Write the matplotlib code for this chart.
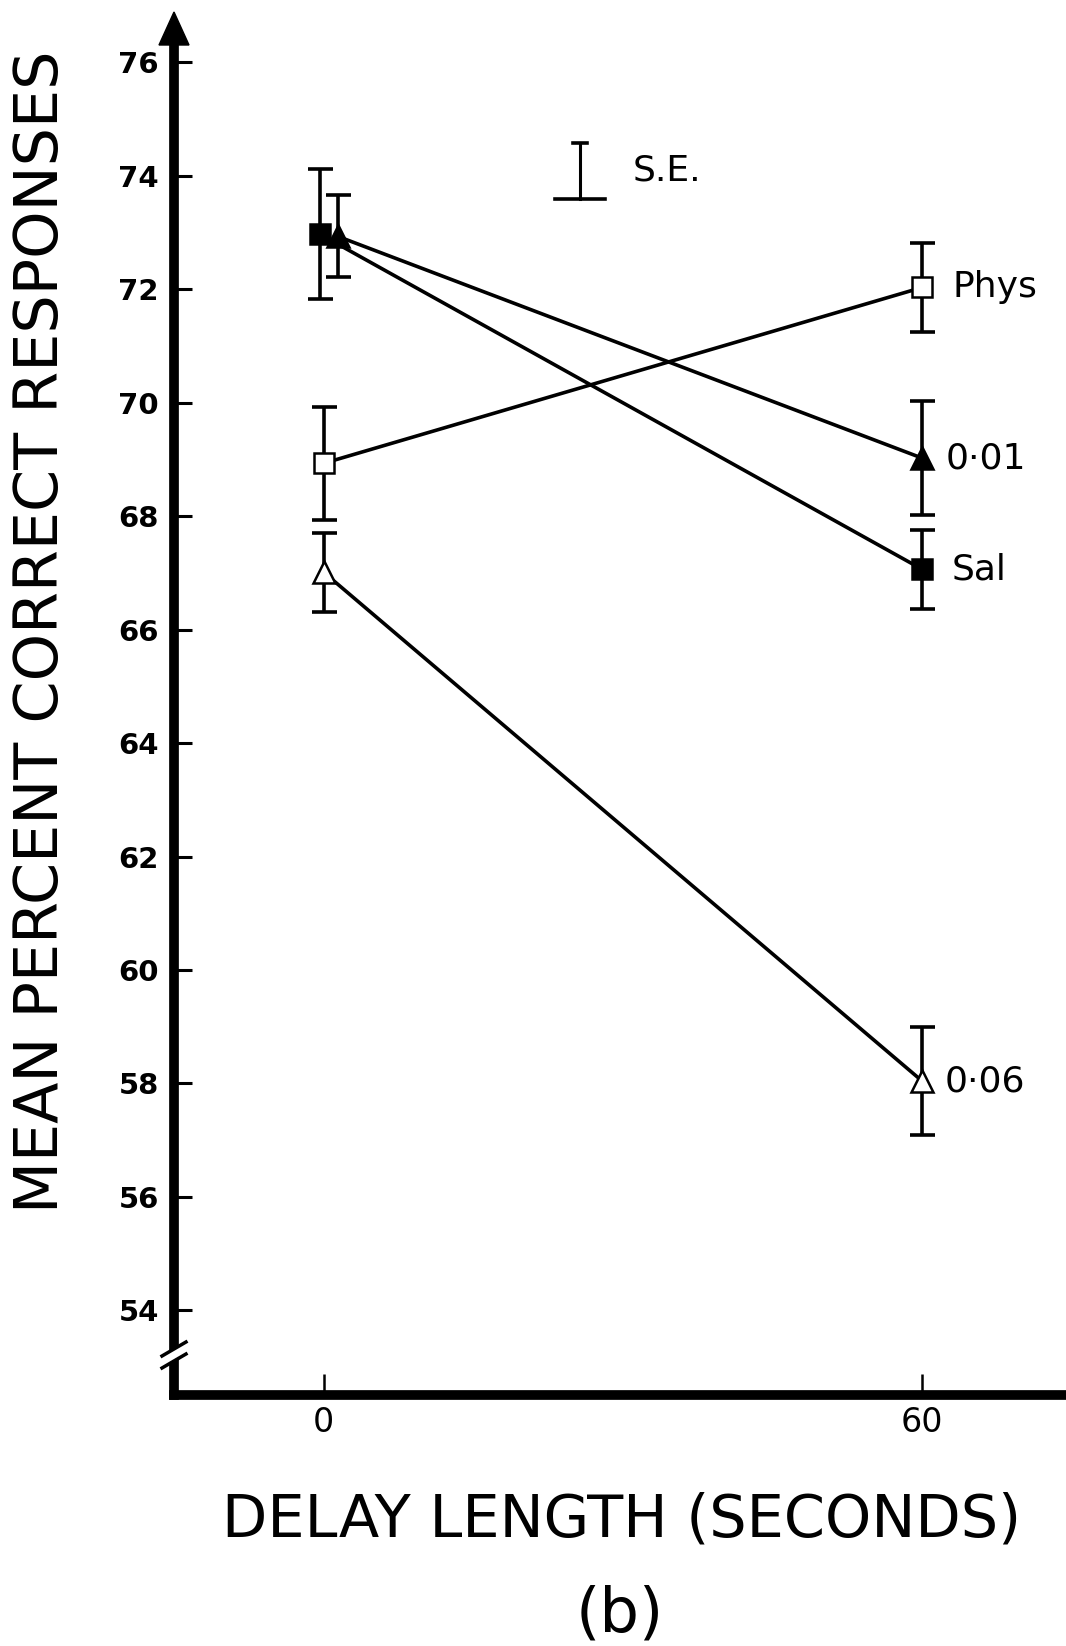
import matplotlib
matplotlib.use("Agg")
import matplotlib.pyplot as plt
from matplotlib.patches import Polygon
from matplotlib.lines import Line2D

# ---------------- data ----------------
delays = [0, 60]
groups = ["Phys", "0·01", "Sal", "0·06"]
phys = [68.93, 72.03]
phys_se = [1.00, 0.78]
d001 = [72.93, 69.02]
d001_se = [0.72, 1.00]
sal = [72.97, 67.06]
sal_se = [1.15, 0.70]
d006 = [67.01, 58.04]
d006_se = [0.70, 0.95]
yticks = [54, 56, 58, 60, 62, 64, 66, 68, 70, 72, 74, 76]
xticks = [0, 60]
se_key = [73.58, 74.57]   # S.E. key bar (low, high)

# ---------------- style ----------------
W, H = 1066, 1646
fig = plt.figure(figsize=(W / 100, H / 100), dpi=100)
plt.rcParams['font.family'] = ['DejaVu Sans']

left_px, right_px, top_px, bot_px = 174, 1066, 40, 1395
ax = fig.add_axes([left_px / W, 1 - bot_px / H, (right_px - left_px) / W, (bot_px - top_px) / H])
ax.set_xlim(-15.0, 74.4)
ax.set_ylim(52.51, 76.39)

for s in ["top", "right"]:
    ax.spines[s].set_visible(False)
for s in ["left", "bottom"]:
    ax.spines[s].set_linewidth(7)
    ax.spines[s].set_capstyle("projecting")

ax.set_yticks(yticks)
ax.set_yticklabels([str(v) for v in yticks], fontsize=21, fontweight="bold")
ax.tick_params(axis="y", direction="in", length=13, width=2.2, pad=11)
ax.set_xticks(xticks)
ax.set_xticklabels([str(v) for v in xticks], fontsize=24)
ax.tick_params(axis="x", direction="in", length=15, width=1.8, pad=8)

dodge = {"Phys": 0.0, "0·01": 1.4, "Sal": -0.4, "0·06": 0.0}
series = {
    "Phys": (phys, phys_se, "s", "white"),
    "0·01": (d001, d001_se, "^", "black"),
    "Sal": (sal, sal_se, "s", "black"),
    "0·06": (d006, d006_se, "^", "white"),
}
label_off = {"Phys": 22, "0·01": 17, "Sal": 21, "0·06": 16}
for name in groups:
    vals, se, mk, fc = series[name]
    xs = [delays[0] + dodge[name], delays[1]]
    ax.errorbar(xs, vals, yerr=se, fmt="none", ecolor="black", elinewidth=2.6,
                capsize=9, capthick=2.6, zorder=2)
    ax.plot(xs, vals, color="black", lw=2.6, zorder=3)
    ax.plot(xs, vals, linestyle="none", marker=mk, ms=15 if mk == "s" else 16,
            mfc=fc, mec="black", mew=1.8, zorder=4)
    ax.annotate(name, xy=(delays[1], vals[1]), xytext=(label_off[name], 0),
                textcoords="offset points", ha="left", va="center", fontsize=26)

# S.E. key
se_x = 25.7
ax.plot([se_x, se_x], se_key, color="black", lw=2.2)
ax.plot([se_x - 0.7, se_x + 0.7], [se_key[1]] * 2, color="black", lw=2.6)
ax.plot([se_x - 2.5, se_x + 2.5], [se_key[0]] * 2, color="black", lw=2.6)
ax.text(se_x + 5.3, (se_key[0] + se_key[1]) / 2 + 0.02, "S.E.", fontsize=26,
        ha="left", va="center")

# arrow head on y axis
ax_x = left_px / W
arrow = Polygon([[ax_x - 15 / W, 1 - 45 / H], [ax_x + 15 / W, 1 - 45 / H], [ax_x, 1 - 12 / H]],
                closed=True, transform=fig.transFigure, color="black", zorder=10)
fig.patches.append(arrow)

# axis break on y axis
gap = Polygon([[ax_x - 12 / W, 1 - 1366 / H], [ax_x + 12 / W, 1 - 1352 / H],
               [ax_x + 12 / W, 1 - 1342 / H], [ax_x - 12 / W, 1 - 1356 / H]],
              closed=True, transform=fig.transFigure, color="white", zorder=10)
fig.patches.append(gap)
for dy in (0, 12):
    fig.lines.append(Line2D([ax_x - 12 / W, ax_x + 12 / W],
                            [1 - (1356 + dy) / H, 1 - (1342 + dy) / H],
                            transform=fig.transFigure, color="black", lw=2.5, zorder=11))

# axis titles
fig.text(42 / W, 1 - 632 / H, "MEAN PERCENT CORRECT RESPONSES", rotation=90,
         ha="center", va="center", fontsize=43.5)
fig.text(622 / W, 1 - 1520 / H, "DELAY LENGTH (SECONDS)", ha="center", va="center",
         fontsize=42.5)
fig.text(620 / W, 1 - 1614 / H, "(b)", ha="center", va="center", fontsize=45)

fig.savefig("out.png", dpi=100)
